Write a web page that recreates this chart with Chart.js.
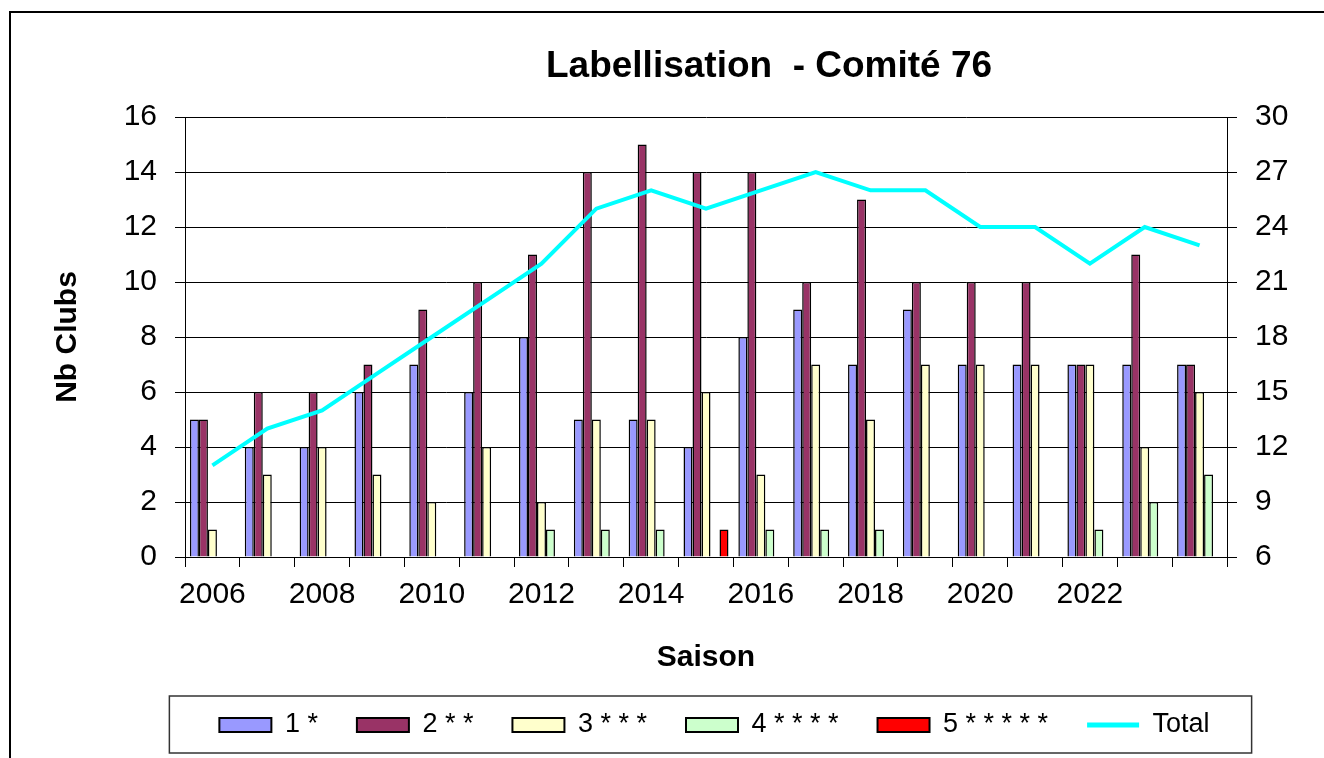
<!DOCTYPE html>
<html lang="fr">
<head>
<meta charset="utf-8">
<title>Labellisation - Comité 76</title>
<script src="https://cdn.jsdelivr.net/npm/chart.js@4.4.1/dist/chart.umd.min.js"></script>
<style>
  html, body { margin: 0; padding: 0; background: #fff; overflow: hidden; }
  #wrap { position: absolute; left: 0; top: 0; width: 1429px; height: 758px; }
</style>
</head>
<body>
<div id="wrap"><canvas id="chart" width="1429" height="758"></canvas></div>
<script>
const saisons = ["2006", "2007", "2008", "2009", "2010", "2011", "2012", "2013", "2014", "2015",
  "2016", "2017", "2018", "2019", "2020", "2021", "2022", "2023", "2024"];
const saisonTicks = ["2006", "", "2008", "", "2010", "", "2012", "", "2014", "",
  "2016", "", "2018", "", "2020", "", "2022", "", ""];

const etoiles1 = [5, 4, 4, 6, 7, 6, 8, 5, 5, 4, 8, 9, 7, 9, 7, 7, 7, 7, 7];
const etoiles2 = [5, 6, 6, 7, 9, 10, 11, 14, 15, 14, 14, 10, 13, 10, 10, 10, 7, 11, 7];
const etoiles3 = [1, 3, 4, 3, 2, 4, 2, 5, 5, 6, 3, 7, 5, 7, 7, 7, 7, 4, 6];
const etoiles4 = [0, 0, 0, 0, 0, 0, 1, 1, 1, 0, 1, 1, 1, 0, 0, 0, 1, 2, 3];
const etoiles5 = [0, 0, 0, 0, 0, 0, 0, 0, 0, 1, 0, 0, 0, 0, 0, 0, 0, 0, 0];
const total = [11, 13, 14, 16, 18, 20, 22, 25, 26, 25, 26, 27, 26, 26, 24, 24, 22, 24, 23];

const FONT = "'Liberation Sans', Arial, sans-serif";

const barDataset = (label, data, color) => ({
  type: "bar",
  label: label,
  data: data,
  backgroundColor: color,
  borderColor: "#000",
  borderWidth: 1.5,
  yAxisID: "y",
  order: 1,
  categoryPercentage: 0.82,
  barPercentage: 1,
});

// titre + cadre exterieur + cadre de la legende
const decorPlugin = {
  id: "decor",
  afterDraw(chart) {
    const ctx = chart.ctx;
    const area = chart.chartArea;
    ctx.save();
    ctx.strokeStyle = "#000";
    ctx.lineWidth = 2;
    ctx.strokeRect(10, 12, 2000, 2000);

    ctx.fillStyle = "#000";
    ctx.font = "bold 37px " + FONT;
    ctx.textAlign = "center";
    ctx.textBaseline = "alphabetic";
    ctx.fillText("Labellisation  - Comité 76", area.left + area.width * 0.5605, 77);

    const boxes = chart.legend.legendHitBoxes;
    if (boxes && boxes.length) {
      const first = boxes[0];
      const last = boxes[boxes.length - 1];
      const mid = first.top + first.height / 2;
      const left = first.left - 50;
      const right = last.left + last.width + 42;
      ctx.strokeStyle = "#333";
      ctx.lineWidth = 1.5;
      ctx.strokeRect(left, mid - 29, right - left, 57);
    }
    ctx.restore();
  },
};

const ctx = document.getElementById("chart").getContext("2d");
new Chart(ctx, {
  data: {
    labels: saisons,
    datasets: [
      barDataset("1 *", etoiles1, "#9999FF"),
      barDataset("2 * *", etoiles2, "#993366"),
      barDataset("3 * * *", etoiles3, "#FFFFCC"),
      barDataset("4 * * * *", etoiles4, "#CCFFCC"),
      barDataset("5 * * * * *", etoiles5, "#FF0000"),
      {
        type: "line",
        label: "Total",
        data: total,
        borderColor: "#00FFFF",
        backgroundColor: "#00FFFF",
        borderWidth: 4,
        pointRadius: 0,
        tension: 0,
        yAxisID: "y2",
        order: 0,
      },
    ],
  },
  options: {
    responsive: false,
    animation: false,
    devicePixelRatio: 1,
    layout: { padding: { left: 0, right: 0, top: 117, bottom: 9.5 } },
    plugins: {
      title: { display: false },
      tooltip: { enabled: false },
      legend: {
        display: true,
        position: "bottom",
        labels: {
          color: "#000",
          font: { family: FONT, size: 27 },
          usePointStyle: true,
          pointStyleWidth: 52,
          boxHeight: 14,
          padding: 39,
          sort: (a, b) => a.datasetIndex - b.datasetIndex,
          generateLabels: (chart) =>
            Chart.defaults.plugins.legend.labels.generateLabels(chart).map((item) => {
              const ds = chart.data.datasets[item.datasetIndex];
              const isLine = ds.type === "line";
              item.pointStyle = isLine ? "line" : "rect";
              item.lineWidth = isLine ? 5 : 2;
              item.strokeStyle = isLine ? ds.borderColor : "#000";
              item.fillStyle = ds.backgroundColor;
              item.fontColor = "#000";
              return item;
            }),
        },
      },
    },
    scales: {
      x: {
        type: "category",
        offset: true,
        grid: {
          offset: true,
          drawOnChartArea: false,
          drawTicks: true,
          tickLength: 10,
          tickColor: "#000",
        },
        border: { display: true, color: "#000", width: 1 },
        ticks: {
          autoSkip: false,
          maxRotation: 0,
          padding: 10,
          color: "#000",
          font: { family: FONT, size: 30 },
          callback: (value, index) => saisonTicks[index],
        },
        title: {
          display: true,
          text: "Saison",
          color: "#000",
          font: { family: FONT, size: 30, weight: "bold" },
          padding: { top: 0, bottom: -3 },
        },
        afterFit: (scale) => { scale.height = 115.5; },
      },
      y: {
        position: "left",
        min: 0,
        max: 16,
        ticks: {
          stepSize: 2,
          padding: 18,
          color: "#000",
          font: { family: FONT, size: 30 },
        },
        grid: {
          color: "#000",
          lineWidth: 1,
          tickLength: 10,
          tickColor: "#000",
        },
        border: { display: true, color: "#000", width: 1 },
        title: {
          display: true,
          text: "Nb Clubs",
          color: "#000",
          font: { family: FONT, size: 30, weight: "bold" },
          padding: { top: 49.5, bottom: 0 },
        },
        afterFit: (scale) => { scale.width = 185; },
      },
      y2: {
        position: "right",
        min: 6,
        max: 30,
        ticks: {
          stepSize: 3,
          padding: 18,
          color: "#000",
          font: { family: FONT, size: 30 },
        },
        grid: {
          drawOnChartArea: false,
          tickLength: 10,
          tickColor: "#000",
        },
        border: { display: true, color: "#000", width: 1 },
        afterFit: (scale) => { scale.width = 202; },
      },
    },
  },
  plugins: [decorPlugin],
});
</script>
</body>
</html>
